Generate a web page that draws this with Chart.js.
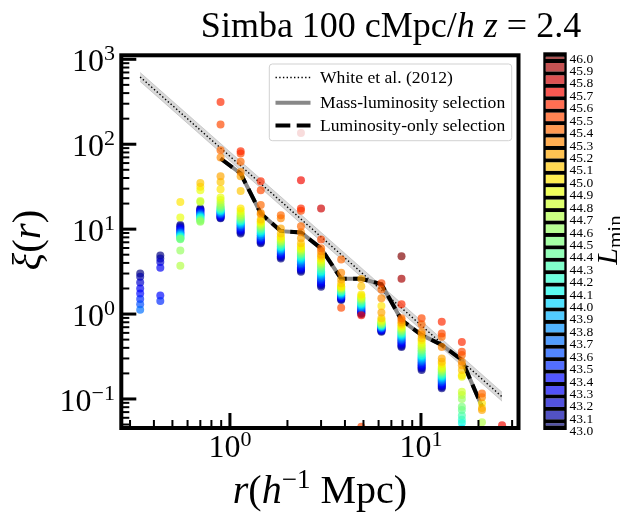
<!DOCTYPE html>
<html>
<head>
<meta charset="utf-8">
<script src="https://cdn.jsdelivr.net/npm/chart.js@4.4.1/dist/chart.umd.min.js"></script>
<style>
  html, body { margin: 0; padding: 0; background: #fff; }
</style>
</head>
<body>
<canvas id="xi" width="620" height="514"></canvas>
<script>
// separation bins (h^-1 Mpc)
const rBins = [0.339, 0.432, 0.550, 0.700, 0.893, 1.138, 1.450, 1.847, 2.354, 3.000,
               3.822, 4.872, 6.208, 7.910, 10.08, 12.85, 16.37, 20.86, 26.58];

const lminLevels = [43.0, 43.1, 43.2, 43.3, 43.4, 43.5, 43.6, 43.7, 43.8, 43.9, 44.0,
                    44.1, 44.2, 44.3, 44.4, 44.5, 44.6, 44.7, 44.8, 44.9, 45.0,
                    45.1, 45.2, 45.3, 45.4, 45.5, 45.6, 45.7, 45.8, 45.9, 46.0];

// xi(r) for each L_min threshold (null = no pairs)
const xi430 = [3.0, 4.9, 11.2, 17.5, 13.4, 8.9, 6.8, 4.5, 3.15, 2.1, 1.46, 1.0, 0.62, 0.41, 0.22, 0.134, null, null, null];
const xi431 = [2.75, 4.5, 10.8, 17.1, 13.6, 9.2, 7.0, 4.65, 3.25, 2.18, 1.49, 1.02, 0.63, 0.42, 0.228, 0.138, null, null, null];
const xi432 = [2.35, 4.1, 10.4, 16.7, 13.9, 9.5, 7.2, 4.8, 3.35, 2.26, 1.52, 1.05, 0.64, 0.435, 0.236, 0.142, null, null, null];
const xi433 = [2.0, 3.5, 10.1, 16.3, 14.2, 9.8, 7.4, 4.95, 3.45, 2.34, 1.55, 1.08, 0.65, 0.45, 0.244, 0.146, null, null, null];
const xi434 = [1.75, 1.65, 9.8, 16.0, 14.5, 10.1, 7.6, 5.1, 3.55, 2.42, 1.58, 1.1, 0.66, 0.465, 0.252, 0.15, null, null, null];
const xi435 = [1.5, 1.42, 9.5, 15.6, 14.8, 10.4, 7.8, 5.25, 3.7, 2.5, 1.61, 1.13, 0.67, 0.48, 0.26, 0.155, null, null, null];
const xi436 = [1.3, null, 9.2, 15.2, 15.1, 10.7, 8.0, 5.4, 3.85, 2.6, 1.64, 1.16, 0.68, 0.495, 0.27, 0.16, null, null, null];
const xi437 = [1.12, null, 9.0, 14.9, 15.4, 11.0, 8.3, 5.55, 4.0, 2.7, 1.67, 1.19, 0.69, 0.51, 0.28, 0.165, null, null, null];
const xi438 = [null, null, 8.8, 14.6, 15.7, 11.3, 8.5, 5.7, 4.15, 2.8, 1.7, 1.22, 0.7, 0.525, 0.29, 0.17, null, null, null];
const xi439 = [null, null, 8.6, 14.3, 16.0, 11.6, 8.8, 5.85, 4.3, 2.9, 1.73, 1.25, 0.71, 0.54, 0.3, 0.175, null, null, null];
const xi440 = [null, null, 8.4, 14.0, 16.3, 11.9, 9.0, 6.0, 4.45, 3.0, 1.76, 1.28, 0.72, 0.555, 0.31, 0.18, 0.045, null, null];
const xi441 = [null, null, 8.2, 13.7, 16.6, 12.2, 9.3, 6.15, 4.6, 3.1, 1.79, 1.31, 0.73, 0.57, 0.32, 0.185, 0.052, null, null];
const xi442 = [null, null, 8.0, 13.4, 17.0, 12.5, 9.6, 6.3, 4.75, 3.2, 1.82, 1.34, 0.74, 0.585, 0.33, 0.19, 0.057, null, null];
const xi443 = [null, null, 7.8, 13.1, 17.4, 12.8, 9.9, 6.5, 4.9, 3.35, 1.86, 1.38, 0.75, 0.6, 0.345, 0.196, 0.064, null, null];
const xi444 = [null, null, 7.7, 12.8, 17.8, 13.2, 10.2, 6.7, 5.05, 3.5, 1.9, 1.42, 0.76, 0.615, 0.36, 0.202, 0.074, null, null];
const xi445 = [null, null, 7.6, 12.5, 18.3, 13.6, 10.5, 6.9, 5.2, 3.65, 1.94, 1.46, 0.77, 0.63, 0.375, 0.208, 0.081, null, null];
const xi446 = [null, null, 5.6, 12.2, 19.2, 14.0, 10.8, 7.1, 5.4, 3.8, 1.98, 1.5, 0.78, 0.65, 0.39, 0.215, 0.1, null, null];
const xi447 = [null, null, 3.7, 20.9, 20.5, 14.6, 11.2, 7.3, 5.6, 3.95, 2.02, 1.54, 0.8, 0.67, 0.41, 0.222, 0.111, 0.053, null];
const xi448 = [null, null, null, 21.5, 22.0, 15.4, 11.6, 7.6, 5.8, 4.1, 2.06, 1.58, 0.82, 0.69, 0.43, 0.23, 0.122, null, null];
const xi449 = [null, null, 13.7, 28.8, 23.6, 16.4, 12.0, 7.9, 6.0, 4.3, 2.1, 1.63, 0.85, 0.71, 0.455, 0.24, 0.183, null, null];
const xi450 = [null, null, 20.9, 31.5, 29.5, 17.5, 12.4, 8.2, 6.3, 4.5, 2.13, 1.7, 1.24, 0.74, 0.49, 0.26, 0.19, 0.089, null];
const xi451 = [null, null, null, 35, 36, 28.2, 13.0, 8.9, 6.8, 4.75, 2.3, 2.13, 0.89, 0.77, 0.52, 0.275, 0.22, 0.078, null];
const xi452 = [null, null, null, null, 42, 42, 15.0, 10.2, 7.8, 5.0, 2.56, 2.58, 1.04, 0.8, 0.57, 0.3, 0.25, 0.074, null];
const xi453 = [null, null, null, null, 70, 47, 15.5, 13.4, 9.2, 5.5, 3.06, null, 1.53, 0.85, 0.62, 0.41, 0.275, 0.105, null];
const xi454 = [null, null, null, null, 85, 62, 19.2, 14.6, 10.8, 5.95, 4.4, null, 1.95, 0.89, 0.76, 0.54, 0.33, 0.116, null];
const xi455 = [null, null, null, null, 171, 77.6, 28.7, null, 16.5, 7.57, 1.19, 0.047, 2.3, null, 0.89, 0.59, 0.36, null, null];
const xi456 = [null, null, null, null, 315, 82.7, 36.7, null, 17.5, null, null, null, null, 1.3, null, 0.81, 0.47, null, null];
const xi457 = [null, null, null, null, null, null, null, null, 37.7, null, null, 0.97, null, null, null, null, null, null, 0.049];
const xi458 = [null, null, null, null, null, null, null, null, 136, 17.5, null, null, null, null, null, null, null, null, null];
const xi459 = [null, null, null, null, null, null, null, null, null, null, null, null, null, 2.6, null, null, null, null, null];
const xi460 = [null, null, null, null, null, null, null, null, null, null, null, null, null, 4.8, null, null, null, null, null];

const xiSeries = [xi430, xi431, xi432, xi433, xi434, xi435, xi436, xi437, xi438, xi439, xi440,
                  xi441, xi442, xi443, xi444, xi445, xi446, xi447, xi448, xi449, xi450,
                  xi451, xi452, xi453, xi454, xi455, xi456, xi457, xi458, xi459, xi460];

// the two selection curves
const massLumXi = [null, null, null, null, 67.9, 45.2, 15.3, 9.47, 9.14, 5.93, 2.60, 2.60, 2.25, 0.85, 0.566, 0.432, 0.288, 0.081, null];
const lumOnlyXi = [null, null, null, null, 67.9, 45.2, 15.3, 9.47, 9.14, 5.93, 2.60, 2.60, 2.25, 0.85, 0.566, 0.432, 0.288, 0.081, null];

// White et al. (2012) power law and its band
const whiteR = [0.3387, 26.58];
const whiteXi = [620, 0.106];
const whiteHi = [700, 0.120];
const whiteLo = [549, 0.094];

const xTicks = [1, 10];
const xTickExp = ['0', '1'];
const yTicks = [0.1, 1, 10, 100, 1000];
const yTickExp = ['\u22121', '0', '1', '2', '3'];

const SERIF = '"Liberation Serif", "DejaVu Serif", serif';

// matplotlib jet
const JET_R = [[0, 0], [0.35, 0], [0.66, 1], [0.89, 1], [1, 0.5]];
const JET_G = [[0, 0], [0.125, 0], [0.375, 1], [0.64, 1], [0.91, 0], [1, 0]];
const JET_B = [[0, 0.5], [0.11, 1], [0.34, 1], [0.65, 0], [1, 0]];
function seg(pts, t) {
  for (let i = 1; i < pts.length; i++) {
    if (t <= pts[i][0]) {
      const [x0, y0] = pts[i - 1], [x1, y1] = pts[i];
      return y0 + (y1 - y0) * (t - x0) / (x1 - x0);
    }
  }
  return pts[pts.length - 1][1];
}
function jet(L, a) {
  const t = (L - 43.0) / 3.0;
  const c = [seg(JET_R, t), seg(JET_G, t), seg(JET_B, t)].map(v => Math.round(v * 255));
  return `rgba(${c[0]},${c[1]},${c[2]},${a})`;
}

const toXY = (xs, ys) => xs.map((x, i) => ({ x: x, y: ys[i] }));

const pointSets = lminLevels.map((L, k) => ({
  data: toXY(rBins, xiSeries[k]),
  showLine: false,
  pointRadius: 4,
  pointHoverRadius: 4,
  pointBorderWidth: 0,
  pointBackgroundColor: jet(L, 0.68),
  backgroundColor: jet(L, 0.68),
  pointBorderColor: 'rgba(0,0,0,0)',
  order: 30 - k,
  clip: 0
}));

const lineSets = [
  { data: toXY(whiteR, whiteHi), borderColor: 'rgba(128,128,128,0.3)', borderWidth: 1,
    backgroundColor: 'rgba(128,128,128,0.3)', fill: '+1', pointRadius: 0, order: 44, clip: 0 },
  { data: toXY(whiteR, whiteLo), borderColor: 'rgba(128,128,128,0.3)', borderWidth: 1,
    fill: false, pointRadius: 0, order: 43, clip: 0 },
  { data: toXY(whiteR, whiteXi), borderColor: '#000', borderWidth: 1.4, borderDash: [1.4, 2.3],
    fill: false, pointRadius: 0, order: 42, clip: 0 },
  { data: toXY(rBins, massLumXi), borderColor: '#888', borderWidth: 4,
    fill: false, pointRadius: 0, order: 41, clip: 0 },
  { data: toXY(rBins, lumOnlyXi), borderColor: '#000', borderWidth: 4, borderDash: [14.8, 6.4],
    fill: false, pointRadius: 0, order: 40, clip: 0 }
];

function drawRuns(ctx, runs, x, y, align) {
  let total = 0;
  runs.forEach(r => { ctx.font = r.font; r.w = ctx.measureText(r.text).width; total += r.w; });
  let cx = align === 'center' ? x - total / 2 : (align === 'right' ? x - total : x);
  ctx.textAlign = 'left';
  ctx.textBaseline = 'alphabetic';
  runs.forEach(r => { ctx.font = r.font; ctx.fillText(r.text, cx, y + (r.dy || 0)); cx += r.w; });
}

const decor = {
  id: 'decor',
  afterDatasetsDraw(chart) {
    const ctx = chart.ctx;
    const a = chart.chartArea;
    const xs = chart.scales.x, ys = chart.scales.y;
    ctx.save();

    // legend box
    const bx = 269.3, by = 64, bw = 242.4, bh = 76.7;
    ctx.beginPath();
    ctx.roundRect(bx, by, bw, bh, 3);
    ctx.fillStyle = 'rgba(255,255,255,0.8)';
    ctx.fill();
    ctx.strokeStyle = 'rgba(204,204,204,0.9)';
    ctx.lineWidth = 1;
    ctx.stroke();
    const rows = [
      { y: 77.5, label: 'White et al. (2012)', color: '#000', w: 1.4, dash: [1.4, 2.3] },
      { y: 102.7, label: 'Mass-luminosity selection', color: '#888', w: 4, dash: [] },
      { y: 125.5, label: 'Luminosity-only selection', color: '#000', w: 4, dash: [14.8, 6.4] }
    ];
    rows.forEach(r => {
      ctx.beginPath();
      ctx.setLineDash(r.dash);
      ctx.strokeStyle = r.color;
      ctx.lineWidth = r.w;
      ctx.moveTo(275.5, r.y);
      ctx.lineTo(310.5, r.y);
      ctx.stroke();
      ctx.setLineDash([]);
      ctx.fillStyle = '#000';
      drawRuns(ctx, [{ text: r.label, font: `17.6px ${SERIF}` }], 320, r.y + 5.5, 'left');
    });

    // spines
    ctx.strokeStyle = '#000';
    ctx.lineWidth = 4;
    ctx.strokeRect(a.left, a.top, a.right - a.left, a.bottom - a.top);

    // inward ticks on left and bottom
    ctx.lineCap = 'butt';
    const tick = (x0, y0, x1, y1, w) => {
      ctx.beginPath(); ctx.lineWidth = w; ctx.moveTo(x0, y0); ctx.lineTo(x1, y1); ctx.stroke();
    };
    for (let d = -1; d <= 1; d++) {
      for (let m = 1; m <= 9; m++) {
        const v = m * Math.pow(10, d);
        if (v < xs.min || v > xs.max) continue;
        const px = xs.getPixelForValue(v);
        tick(px, a.bottom, px, a.bottom - (m === 1 ? 15 : 8), m === 1 ? 3 : 2);
      }
    }
    for (let d = -2; d <= 3; d++) {
      for (let m = 1; m <= 9; m++) {
        const v = m * Math.pow(10, d);
        if (v < ys.min || v > ys.max) continue;
        const py = ys.getPixelForValue(v);
        tick(a.left, py, a.left + (m === 1 ? 15 : 8), py, m === 1 ? 3 : 2);
      }
    }

    // tick labels
    ctx.fillStyle = '#000';
    xTicks.forEach((v, i) => {
      const px = xs.getPixelForValue(v);
      drawRuns(ctx, [{ text: '10', font: `32px ${SERIF}` },
                     { text: xTickExp[i], font: `22px ${SERIF}`, dy: -11 }], px, 456.5, 'center');
    });
    yTicks.forEach((v, i) => {
      const py = ys.getPixelForValue(v);
      drawRuns(ctx, [{ text: '10', font: `32px ${SERIF}` },
                     { text: yTickExp[i], font: `22px ${SERIF}`, dy: -11 }], 115, py + 12, 'right');
    });

    // axis titles
    drawRuns(ctx, [{ text: 'r', font: `italic 40px ${SERIF}` },
                   { text: '(', font: `40px ${SERIF}` },
                   { text: 'h', font: `italic 40px ${SERIF}` },
                   { text: '\u22121', font: `27px ${SERIF}`, dy: -15 },
                   { text: ' Mpc)', font: `40px ${SERIF}` }], (a.left + a.right) / 2, 503, 'center');
    ctx.save();
    ctx.translate(40, 240);
    ctx.rotate(-Math.PI / 2);
    drawRuns(ctx, [{ text: '\u03be', font: `italic 41px ${SERIF}` },
                   { text: '(', font: `41px ${SERIF}` },
                   { text: 'r', font: `italic 41px ${SERIF}` },
                   { text: ')', font: `41px ${SERIF}` }], 0, 0, 'center');
    ctx.restore();

    // title
    drawRuns(ctx, [{ text: 'Simba 100 cMpc/', font: `36px ${SERIF}` },
                   { text: 'h', font: `italic 36px ${SERIF}` },
                   { text: ' ', font: `36px ${SERIF}` },
                   { text: 'z', font: `italic 36px ${SERIF}` },
                   { text: ' = 2.4', font: `36px ${SERIF}` }], 391, 37, 'center');

    // colour bar
    const cbL = 543.3, cbR = 566.7, cbT = 52.3, cbB = 430;
    ctx.fillStyle = '#000';
    ctx.fillRect(cbL, cbT, cbR - cbL, cbB - cbT);
    const inT = cbT + 2.5, inB = cbB - 2.5;
    const pitch = (inB - inT) / (lminLevels.length - 1);
    lminLevels.forEach((L, k) => {
      const j = lminLevels.length - 1 - k;
      const c = inT + j * pitch;
      const y0 = Math.max(inT, c - pitch / 2) + 2;
      const y1 = Math.min(inB, c + pitch / 2) - 2;
      ctx.fillStyle = '#fff';
      ctx.fillRect(cbL + 2.5, y0, cbR - cbL - 5, y1 - y0);
      ctx.fillStyle = jet(L, 0.68);
      ctx.fillRect(cbL + 2.5, y0, cbR - cbL - 5, y1 - y0);
      ctx.fillStyle = '#000';
      drawRuns(ctx, [{ text: L.toFixed(1), font: `13.5px ${SERIF}` }], 569.5, c + 3 + 4.8, 'left');
    });
    ctx.save();
    ctx.translate(617, 240);
    ctx.rotate(-Math.PI / 2);
    drawRuns(ctx, [{ text: 'L', font: `italic 30px ${SERIF}` },
                   { text: 'min', font: `21px ${SERIF}`, dy: 5 }], 0, 0, 'center');
    ctx.restore();

    ctx.restore();
  }
};

new Chart(document.getElementById('xi'), {
  type: 'line',
  data: { datasets: lineSets.concat(pointSets) },
  options: {
    responsive: false,
    animation: false,
    devicePixelRatio: 1,
    events: [],
    layout: { padding: { left: 121.3, top: 55.3, right: 101.5, bottom: 86 } },
    scales: {
      x: { type: 'logarithmic', min: 0.27, max: 32.4, display: false },
      y: { type: 'logarithmic', min: 0.0455, max: 1115, display: false }
    },
    plugins: {
      legend: { display: false },
      tooltip: { enabled: false }
    }
  },
  plugins: [decor]
});
</script>
</body>
</html>
